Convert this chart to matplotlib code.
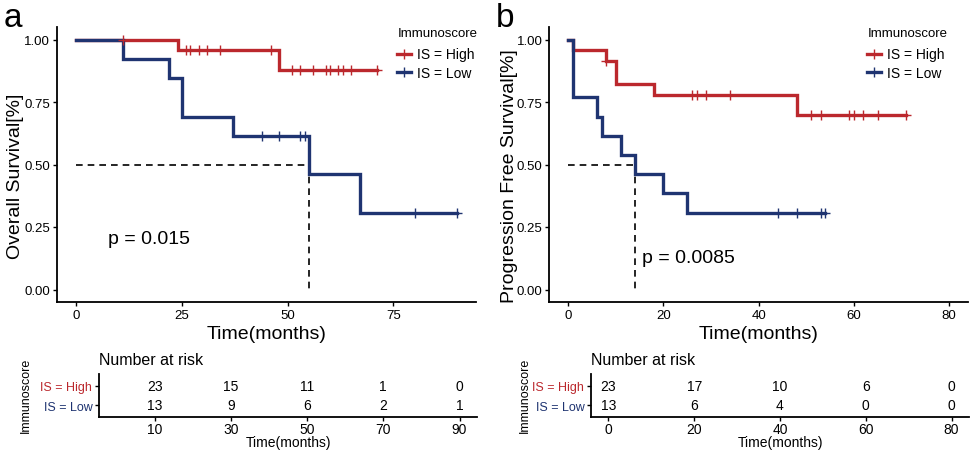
import numpy as np
import matplotlib
matplotlib.use("Agg")
import matplotlib.pyplot as plt
from matplotlib.lines import Line2D

plt.rcParams['font.family'] = ['Liberation Sans', 'DejaVu Sans']

RED = '#BB282D'
BLUE = '#1F3471'

groups = ['IS = High', 'IS = Low']

# ---- Panel a: Overall survival ----
os_high_t = [0, 24, 48, 71]
os_high_s = [1.0, 0.9565, 0.8768, 0.8768]
os_high_cens = [11, 26, 27, 29, 31, 34, 46, 51, 53, 56, 59, 60, 62, 63, 65, 71]
os_low_t = [0, 11, 22, 25, 37, 55, 67, 90]
os_low_s = [1.0, 0.923, 0.846, 0.692, 0.615, 0.462, 0.308, 0.308]
os_low_cens = [44, 48, 53, 54, 80, 90]
os_median = 55
os_p = 'p = 0.015'
os_risk_times = [10, 30, 50, 70, 90]
os_risk_high = [23, 15, 11, 1, 0]
os_risk_low = [13, 9, 6, 2, 1]
os_xticks = [0, 25, 50, 75]

# ---- Panel b: Progression free survival ----
pfs_high_t = [0, 1, 8, 10, 18, 48, 71]
pfs_high_s = [1.0, 0.9565, 0.913, 0.822, 0.777, 0.700, 0.700]
pfs_high_cens = [8, 26, 27, 29, 34, 51, 53, 59, 60, 62, 65, 71]
pfs_low_t = [0, 1, 6, 7, 11, 14, 20, 25, 54]
pfs_low_s = [1.0, 0.769, 0.692, 0.615, 0.538, 0.462, 0.385, 0.308, 0.308]
pfs_low_cens = [44, 48, 53, 54]
pfs_median = 14
pfs_p = 'p = 0.0085'
pfs_risk_times = [0, 20, 40, 60, 80]
pfs_risk_high = [23, 17, 10, 6, 0]
pfs_risk_low = [13, 6, 4, 0, 0]
pfs_xticks = [0, 20, 40, 60, 80]

yticks = [0.0, 0.25, 0.5, 0.75, 1.0]
ytick_labels = ['0.00', '0.25', '0.50', '0.75', '1.00']

W, H = 972, 452
fig = plt.figure(figsize=(W / 100, H / 100), dpi=100)


def px_axes(l, t, r, b):
    return fig.add_axes([l / W, 1 - b / H, (r - l) / W, (b - t) / H])


def step_at(times, surv, x):
    idx = np.searchsorted(times, x, side='right') - 1
    return np.asarray(surv)[idx]


def style(ax):
    for s in ['top', 'right']:
        ax.spines[s].set_visible(False)
    for s in ['left', 'bottom']:
        ax.spines[s].set_linewidth(1.3)
        ax.spines[s].set_color('black')
    ax.tick_params(axis='both', length=3, width=1, color='black',
                   labelcolor='black', pad=2)


def km_panel(box, letter, ylabel, xlim, xticks, ht, hs, hc, lt, ls, lc,
             median, ptxt, pxy, ylab_x, leg_x):
    ax = px_axes(*box)
    style(ax)
    # median lines
    ax.plot([0, median], [0.5, 0.5], ls=(0, (4, 3)), color='black', lw=1.2)
    ax.plot([median, median], [0.5, 0.0], ls=(0, (4, 3)), color='black', lw=1.2)
    ax.step(ht, hs, where='post', color=RED, lw=2.4, solid_joinstyle='miter')
    ax.step(lt, ls, where='post', color=BLUE, lw=2.4, solid_joinstyle='miter')
    ax.plot(hc, step_at(ht, hs, hc), ls='none', marker='+', ms=6.5, mew=1, color=RED)
    ax.plot(lc, step_at(lt, ls, lc), ls='none', marker='+', ms=6.5, mew=1, color=BLUE)
    ax.set_xlim(*xlim)
    ax.set_ylim(-0.05, 1.05)
    ax.set_xticks(xticks)
    ax.set_yticks(yticks)
    ax.set_yticklabels(ytick_labels)
    ax.tick_params(labelsize=9.5)
    ax.set_xlabel('Time(months)', fontsize=14, labelpad=3)
    ax.set_ylabel(ylabel, fontsize=14)
    ax.yaxis.set_label_coords(ylab_x, 0.462)
    ax.text(pxy[0], pxy[1], ptxt, fontsize=14, ha='left', va='baseline')
    handles = [Line2D([], [], color=RED, lw=2.4, marker='+', ms=6.5, mew=1),
               Line2D([], [], color=BLUE, lw=2.4, marker='+', ms=6.5, mew=1)]
    fig.legend(handles, groups, loc='upper left',
               bbox_to_anchor=(leg_x / W, 1 - 48.5 / H),
               frameon=False, fontsize=10,
               handlelength=1.0, handletextpad=0.45, labelspacing=0.33,
               borderpad=0, borderaxespad=0)
    fig.text((leg_x + 1) / W, 1 - 34 / H, 'Immunoscore', fontsize=9.5,
             ha='left', va='center')
    fig.text((box[0] - 53) / W, 1 - 27 / H, letter, fontsize=24,
             ha='left', va='baseline')
    return ax


def risk_panel(box, xlim, times, high, low, ylab_x):
    ax = px_axes(*box)
    style(ax)
    ax.set_xlim(*xlim)
    ax.set_ylim(0.4, 2.6)
    for t, h, l in zip(times, high, low):
        ax.text(t, 2, str(h), ha='center', va='center', fontsize=10)
        ax.text(t, 1, str(l), ha='center', va='center', fontsize=10)
    ax.set_xticks(times)
    ax.set_yticks([2, 1])
    ax.set_yticklabels(groups)
    ax.tick_params(axis='x', labelsize=10, pad=1)
    ax.tick_params(axis='y', labelsize=9)
    for lab, c in zip(ax.get_yticklabels(), [RED, BLUE]):
        lab.set_color(c)
    ax.set_title('Number at risk', loc='left', fontsize=11.5, pad=7)
    ax.set_xlabel('Time(months)', fontsize=10)
    ax.xaxis.set_label_coords(0.5, -0.42)
    ax.set_ylabel('Immunoscore', fontsize=9)
    ax.yaxis.set_label_coords(ylab_x, 0.52)
    return ax


km_panel((57, 28, 476, 303), 'a', 'Overall Survival[%]', (-4.5, 94.5), os_xticks,
         os_high_t, os_high_s, os_high_cens, os_low_t, os_low_s, os_low_cens,
         os_median, os_p, (7.6, 0.186), -0.079, 397)
km_panel((549.3, 28, 968, 303), 'b', 'Progression Free Survival[%]', (-4, 84), pfs_xticks,
         pfs_high_t, pfs_high_s, pfs_high_cens, pfs_low_t, pfs_low_s, pfs_low_cens,
         pfs_median, pfs_p, (15.5, 0.109), -0.075, 867)

risk_panel((99.3, 375, 476.7, 417.7), (-4.5, 94.5), os_risk_times,
           os_risk_high, os_risk_low, -0.178)
risk_panel((591.3, 375, 968.7, 417.7), (-4, 84), pfs_risk_times,
           pfs_risk_high, pfs_risk_low, -0.16)

fig.savefig('out.png', dpi=100)
